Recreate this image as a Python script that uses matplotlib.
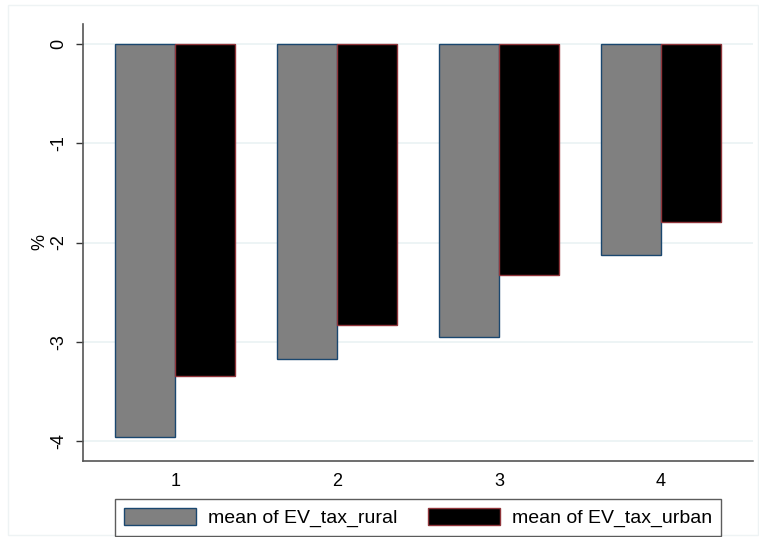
import matplotlib.pyplot as plt
import numpy as np
from matplotlib.patches import Rectangle

# ── Data ────────────────────────────────────────────────────
groups = ["1", "2", "3", "4"]
ev_tax_rural = [-3.96, -3.17, -2.95, -2.13]
ev_tax_urban = [-3.34, -2.83, -2.33, -1.79]
y_ticks = [0, -1, -2, -3, -4]
legend_labels = ["mean of EV_tax_rural", "mean of EV_tax_urban"]

plt.rcParams.update({
    "font.family": ["Liberation Sans", "DejaVu Sans"],
    "font.size": 11,
})

fig = plt.figure(figsize=(7.59, 5.37), dpi=100)
# faint outer graph-region border (Stata style)
fig.patches.append(Rectangle((8 / 759, 2 / 537), 750 / 759, 530 / 537,
                             transform=fig.transFigure, fill=False,
                             edgecolor="#eef3f4", linewidth=1.0))

ax = fig.add_axes([83 / 759, 1 - 461 / 537, (753 - 83) / 759, (461 - 24) / 537])

x = np.arange(1, len(groups) + 1)
w = 0.371
ax.bar(x - w / 2, ev_tax_rural, width=w, color="#808080",
       edgecolor="#1a476f", linewidth=1.0, zorder=3)
ax.bar(x + w / 2, ev_tax_urban, width=w, color="#000000",
       edgecolor="#90353b", linewidth=1.0, zorder=3)

ax.set_xlim(0.431, 4.569)
ax.set_ylim(-4.2, 0.2)
ax.set_yticks(y_ticks)
ax.set_yticklabels([str(t) for t in y_ticks], rotation=90, va="center")
ax.set_xticks(x)
ax.set_xticklabels(groups)
ax.tick_params(axis="x", length=0, pad=9, labelsize=13)
ax.tick_params(axis="y", length=5, width=1.0, color="#333333", pad=6, labelsize=13)

ax.yaxis.grid(True, color="#eaf2f3", linewidth=1.2, zorder=0)
ax.set_axisbelow(True)

for side in ["top", "right"]:
    ax.spines[side].set_visible(False)
for side in ["left", "bottom"]:
    ax.spines[side].set_color("#555555")
    ax.spines[side].set_linewidth(1.2)

ax.set_ylabel("%", fontsize=13, labelpad=2)

handles = [
    Rectangle((0, 0), 1, 1, facecolor="#808080", edgecolor="#1a476f", linewidth=1.0),
    Rectangle((0, 0), 1, 1, facecolor="#000000", edgecolor="#90353b", linewidth=1.0),
]
leg = fig.legend(handles, legend_labels, loc="center",
                 bbox_to_anchor=(418 / 759, 1 - 517.5 / 537), ncol=2,
                 frameon=True, fancybox=False, fontsize=14,
                 handlelength=3.7, handleheight=1.0, handletextpad=0.6,
                 columnspacing=1.6, borderpad=0.45, borderaxespad=0)
leg.get_frame().set_edgecolor("#333333")
leg.get_frame().set_linewidth(1.0)

fig.savefig("out.png", dpi=100)
